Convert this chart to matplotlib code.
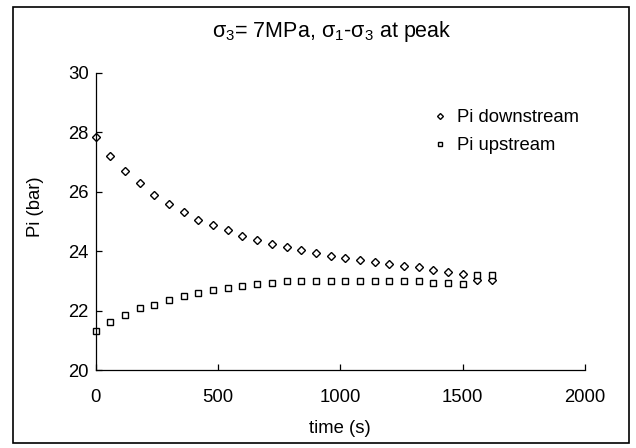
import matplotlib
matplotlib.use("Agg")
import matplotlib.pyplot as plt
from matplotlib.patches import Rectangle

# ---- data ----
time_s = [0, 60, 120, 180, 240, 300, 360, 420, 480, 540, 600, 660, 720, 780,
          840, 900, 960, 1020, 1080, 1140, 1200, 1260, 1320, 1380, 1440, 1500,
          1560, 1620]
pi_downstream = [27.85, 27.21, 26.70, 26.29, 25.89, 25.58, 25.30, 25.06, 24.87,
                 24.70, 24.51, 24.37, 24.24, 24.14, 24.03, 23.94, 23.82, 23.77,
                 23.70, 23.62, 23.58, 23.49, 23.46, 23.35, 23.30, 23.22, 23.04,
                 23.04]
pi_upstream = [21.30, 21.61, 21.86, 22.09, 22.20, 22.37, 22.50, 22.60, 22.70,
               22.76, 22.81, 22.89, 22.92, 22.98, 22.98, 22.98, 23.01, 23.01,
               23.01, 23.01, 23.01, 23.01, 22.98, 22.93, 22.93, 22.89, 23.20,
               23.18]
x_ticks = [0, 500, 1000, 1500, 2000]
y_ticks = [20, 22, 24, 26, 28, 30]
title = "σ$_3$= 7MPa, σ$_1$-σ$_3$ at peak"
label_down = "Pi downstream"
label_up = "Pi upstream"

plt.rcParams['font.family'] = ['Liberation Sans', 'DejaVu Sans']
plt.rcParams['mathtext.fontset'] = 'custom'
plt.rcParams['mathtext.rm'] = 'Liberation Sans'
plt.rcParams['mathtext.it'] = 'Liberation Sans'
plt.rcParams['mathtext.default'] = 'regular'
FS = 13.3

W, H = 636, 448
fig = plt.figure(figsize=(W / 100, H / 100), dpi=100)
ax = fig.add_axes([95.7 / W, 1 - 370 / H, (585 - 95.7) / W, (370 - 72.7) / H])

ax.plot(time_s, pi_downstream, linestyle='none', marker='D', ms=4.0,
        mfc='white', mec='black', mew=1.0, label=label_down, clip_on=False)
ax.plot(time_s, pi_upstream, linestyle='none', marker='s', ms=4.8,
        mfc='white', mec='black', mew=1.0, label=label_up, clip_on=False)

ax.set_xlim(0, 2000)
ax.set_ylim(20, 30)
ax.set_xticks(x_ticks)
ax.set_yticks(y_ticks)
for s in ['top', 'right']:
    ax.spines[s].set_visible(False)
for s in ['left', 'bottom']:
    ax.spines[s].set_linewidth(0.9)
    ax.spines[s].set_color('black')
ax.tick_params(axis='both', direction='in', length=4, width=0.9,
               labelsize=FS, colors='black')
ax.tick_params(axis='x', pad=14)
ax.tick_params(axis='y', pad=5)

fig.text(332 / W, 1 - 32 / H, title, ha='center', va='center', fontsize=15.5)
fig.text(340 / W, 1 - 428 / H, "time (s)", ha='center', va='center', fontsize=FS)
fig.text(35 / W, 1 - 207 / H, "Pi (bar)", ha='center', va='center',
         rotation=90, fontsize=FS)

leg = ax.legend(loc='upper left', bbox_to_anchor=(432 / W, 1 - 109 / H),
                bbox_transform=fig.transFigure, frameon=False, fontsize=FS,
                handlelength=0.9, handletextpad=0.45, labelspacing=0.6,
                markerscale=0.75, borderpad=0, borderaxespad=0)

fig.patches.append(Rectangle((13 / W, 1 - 443 / H), (629 - 13) / W, (443 - 7) / H,
                             transform=fig.transFigure, fill=False,
                             edgecolor='black', linewidth=1.2))

fig.savefig("out.png", dpi=100)
